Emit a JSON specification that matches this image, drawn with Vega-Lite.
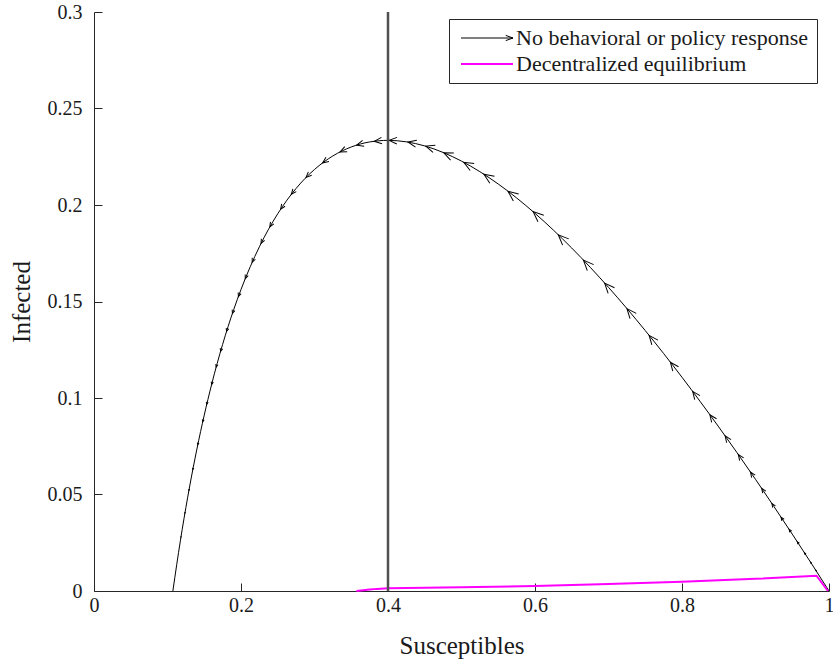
{
  "$schema": "https://vega.github.io/schema/vega-lite/v6.json",
  "width": 735,
  "height": 579,
  "autosize": {"type": "none"},
  "padding": {"left": 94, "top": 12, "right": 4, "bottom": 73},
  "background": "white",
  "config": {
    "view": {"stroke": null},
    "axis": {
      "domainColor": "#262626",
      "tickColor": "#262626",
      "labelFont": "Liberation Serif",
      "titleFont": "Liberation Serif",
      "labelFontSize": 20,
      "titleFontSize": 25,
      "labelColor": "#1a1a1a",
      "titleColor": "#1a1a1a",
      "titleFontWeight": "normal",
      "grid": false,
      "tickSize": -8
    },
    "legend": {
      "labelFont": "Liberation Serif",
      "labelFontSize": 22,
      "labelColor": "#1a1a1a",
      "labelLimit": 600,
      "strokeColor": "#262626",
      "fillColor": "white",
      "padding": 8,
      "rowPadding": 4
    }
  },
  "datasets": {
    "curve": [
      {"S": 1.0, "I": 0.0, "series": "No behavioral or policy response"},
      {"S": 0.98, "I": 0.01192, "series": "No behavioral or policy response"},
      {"S": 0.95, "I": 0.02948, "series": "No behavioral or policy response"},
      {"S": 0.9, "I": 0.05786, "series": "No behavioral or policy response"},
      {"S": 0.85, "I": 0.08499, "series": "No behavioral or policy response"},
      {"S": 0.8, "I": 0.11074, "series": "No behavioral or policy response"},
      {"S": 0.75, "I": 0.13493, "series": "No behavioral or policy response"},
      {"S": 0.7, "I": 0.15733, "series": "No behavioral or policy response"},
      {"S": 0.65, "I": 0.17769, "series": "No behavioral or policy response"},
      {"S": 0.6, "I": 0.19567, "series": "No behavioral or policy response"},
      {"S": 0.55, "I": 0.21087, "series": "No behavioral or policy response"},
      {"S": 0.5, "I": 0.22274, "series": "No behavioral or policy response"},
      {"S": 0.45, "I": 0.2306, "series": "No behavioral or policy response"},
      {"S": 0.425, "I": 0.23273, "series": "No behavioral or policy response"},
      {"S": 0.4, "I": 0.23348, "series": "No behavioral or policy response"},
      {"S": 0.375, "I": 0.23267, "series": "No behavioral or policy response"},
      {"S": 0.35, "I": 0.23007, "series": "No behavioral or policy response"},
      {"S": 0.325, "I": 0.22543, "series": "No behavioral or policy response"},
      {"S": 0.3, "I": 0.21841, "series": "No behavioral or policy response"},
      {"S": 0.275, "I": 0.20861, "series": "No behavioral or policy response"},
      {"S": 0.25, "I": 0.19548, "series": "No behavioral or policy response"},
      {"S": 0.225, "I": 0.17834, "series": "No behavioral or policy response"},
      {"S": 0.2, "I": 0.15622, "series": "No behavioral or policy response"},
      {"S": 0.19, "I": 0.14571, "series": "No behavioral or policy response"},
      {"S": 0.175, "I": 0.12781, "series": "No behavioral or policy response"},
      {"S": 0.16, "I": 0.10697, "series": "No behavioral or policy response"},
      {"S": 0.15, "I": 0.09115, "series": "No behavioral or policy response"},
      {"S": 0.14, "I": 0.07355, "series": "No behavioral or policy response"},
      {"S": 0.13, "I": 0.05391, "series": "No behavioral or policy response"},
      {"S": 0.125, "I": 0.04322, "series": "No behavioral or policy response"},
      {"S": 0.12, "I": 0.03189, "series": "No behavioral or policy response"},
      {"S": 0.115, "I": 0.01987, "series": "No behavioral or policy response"},
      {"S": 0.11, "I": 0.00709, "series": "No behavioral or policy response"},
      {"S": 0.1073, "I": 0.0, "series": "No behavioral or policy response"}
    ],
    "arrows": [
      {"S": 0.4068, "I": 0.2334, "u": -0.2374, "v": 0.0040},
      {"S": 0.4327, "I": 0.2322, "u": -0.2512, "v": 0.0190},
      {"S": 0.4571, "I": 0.2298, "u": -0.2626, "v": 0.0328},
      {"S": 0.4816, "I": 0.2261, "u": -0.2722, "v": 0.0461},
      {"S": 0.5088, "I": 0.2209, "u": -0.2810, "v": 0.0601},
      {"S": 0.5361, "I": 0.2145, "u": -0.2875, "v": 0.0730},
      {"S": 0.5687, "I": 0.2055, "u": -0.2922, "v": 0.0867},
      {"S": 0.6027, "I": 0.1948, "u": -0.2935, "v": 0.0987},
      {"S": 0.6367, "I": 0.1827, "u": -0.2908, "v": 0.1081},
      {"S": 0.6707, "I": 0.1695, "u": -0.2842, "v": 0.1147},
      {"S": 0.6993, "I": 0.1576, "u": -0.2755, "v": 0.1179},
      {"S": 0.7293, "I": 0.1444, "u": -0.2633, "v": 0.1189},
      {"S": 0.7592, "I": 0.1306, "u": -0.2479, "v": 0.1173},
      {"S": 0.7878, "I": 0.1168, "u": -0.2300, "v": 0.1132},
      {"S": 0.8177, "I": 0.1018, "u": -0.2081, "v": 0.1063},
      {"S": 0.8408, "I": 0.0898, "u": -0.1888, "v": 0.0990},
      {"S": 0.8612, "I": 0.0790, "u": -0.1701, "v": 0.0911},
      {"S": 0.8789, "I": 0.0695, "u": -0.1527, "v": 0.0832},
      {"S": 0.8952, "I": 0.0605, "u": -0.1354, "v": 0.0749},
      {"S": 0.9102, "I": 0.0522, "u": -0.1188, "v": 0.0666},
      {"S": 0.9238, "I": 0.0445, "u": -0.1028, "v": 0.0583},
      {"S": 0.9361, "I": 0.0375, "u": -0.0878, "v": 0.0503},
      {"S": 0.9469, "I": 0.0313, "u": -0.0741, "v": 0.0428},
      {"S": 0.9578, "I": 0.0250, "u": -0.0599, "v": 0.0349},
      {"S": 0.9673, "I": 0.0194, "u": -0.0469, "v": 0.0275},
      {"S": 0.9755, "I": 0.0146, "u": -0.0356, "v": 0.0210},
      {"S": 0.9823, "I": 0.0106, "u": -0.0260, "v": 0.0154},
      {"S": 0.3864, "I": 0.2332, "u": -0.2253, "v": -0.0079},
      {"S": 0.3619, "I": 0.2315, "u": -0.2094, "v": -0.0221},
      {"S": 0.3388, "I": 0.2282, "u": -0.1933, "v": -0.0349},
      {"S": 0.3143, "I": 0.2227, "u": -0.1750, "v": -0.0477},
      {"S": 0.2912, "I": 0.2153, "u": -0.1567, "v": -0.0586},
      {"S": 0.2707, "I": 0.2066, "u": -0.1398, "v": -0.0668},
      {"S": 0.2558, "I": 0.1989, "u": -0.1272, "v": -0.0717},
      {"S": 0.2408, "I": 0.1897, "u": -0.1142, "v": -0.0755},
      {"S": 0.2286, "I": 0.1811, "u": -0.1035, "v": -0.0776},
      {"S": 0.2163, "I": 0.1713, "u": -0.0926, "v": -0.0787},
      {"S": 0.2068, "I": 0.1628, "u": -0.0842, "v": -0.0786},
      {"S": 0.1973, "I": 0.1535, "u": -0.0757, "v": -0.0778},
      {"S": 0.1891, "I": 0.1447, "u": -0.0684, "v": -0.0763},
      {"S": 0.1810, "I": 0.1353, "u": -0.0612, "v": -0.0741},
      {"S": 0.1728, "I": 0.1249, "u": -0.0540, "v": -0.0709},
      {"S": 0.1667, "I": 0.1167, "u": -0.0486, "v": -0.0681},
      {"S": 0.1605, "I": 0.1077, "u": -0.0432, "v": -0.0645},
      {"S": 0.1537, "I": 0.0973, "u": -0.0374, "v": -0.0599},
      {"S": 0.1483, "I": 0.0883, "u": -0.0327, "v": -0.0556},
      {"S": 0.1415, "I": 0.0763, "u": -0.0270, "v": -0.0493},
      {"S": 0.1347, "I": 0.0634, "u": -0.0213, "v": -0.0421},
      {"S": 0.1293, "I": 0.0524, "u": -0.0169, "v": -0.0355},
      {"S": 0.1238, "I": 0.0406, "u": -0.0126, "v": -0.0280},
      {"S": 0.1184, "I": 0.0281, "u": -0.0083, "v": -0.0198}
    ],
    "decentral": [
      {"S": 0.357, "I": 0.0, "series": "Decentralized equilibrium"},
      {"S": 0.366, "I": 0.0004, "series": "Decentralized equilibrium"},
      {"S": 0.375, "I": 0.0008, "series": "Decentralized equilibrium"},
      {"S": 0.385, "I": 0.0011, "series": "Decentralized equilibrium"},
      {"S": 0.4, "I": 0.0014, "series": "Decentralized equilibrium"},
      {"S": 0.5, "I": 0.0019, "series": "Decentralized equilibrium"},
      {"S": 0.6, "I": 0.0026, "series": "Decentralized equilibrium"},
      {"S": 0.7, "I": 0.0036, "series": "Decentralized equilibrium"},
      {"S": 0.8, "I": 0.0048, "series": "Decentralized equilibrium"},
      {"S": 0.9, "I": 0.0063, "series": "Decentralized equilibrium"},
      {"S": 0.983, "I": 0.0079, "series": "Decentralized equilibrium"},
      {"S": 0.9985, "I": 0.0, "series": "Decentralized equilibrium"}
    ],
    "threshold": [{"S": 0.4}]
  },
  "layer": [
    {
      "data": {"name": "curve"},
      "mark": {"type": "line", "strokeWidth": 1, "interpolate": "monotone"},
      "encoding": {
        "x": {
          "field": "S", "type": "quantitative",
          "scale": {"domain": [0, 1], "nice": false, "zero": false},
          "axis": {
            "title": "Susceptibles",
            "values": [0, 0.2, 0.4, 0.6, 0.8, 1],
            "format": "~g",
            "labelFlush": true,
            "labelFlushOffset": 5,
            "labelPadding": 12,
            "titlePadding": 18
          }
        },
        "y": {
          "field": "I", "type": "quantitative",
          "scale": {"domain": [0, 0.3], "nice": false, "zero": false},
          "axis": {
            "title": "Infected",
            "values": [0, 0.05, 0.1, 0.15, 0.2, 0.25, 0.3],
            "format": "~g",
            "labelFlush": false,
            "labelPadding": 20,
            "titlePadding": 13
          }
        },
        "color": {
          "field": "series", "type": "nominal",
          "scale": {
            "domain": ["No behavioral or policy response", "Decentralized equilibrium"],
            "range": ["#000000", "#ff00ff"]
          },
          "legend": {
            "orient": "none",
            "legendX": 355,
            "legendY": 7,
            "title": null,
            "symbolType": "stroke",
            "symbolSize": 2704,
            "symbolOffset": 19,
            "labelOffset": 18,
            "encode": {
              "symbols": {
                "update": {
                  "shape": {"signal": "datum.value === 'No behavioral or policy response' ? 'M-1,0L1,0M0.72,-0.1L1,0L0.72,0.1' : 'stroke'"},
                  "strokeWidth": {"signal": "datum.value === 'Decentralized equilibrium' ? 2 : 1"},
                  "fill": {"value": "transparent"}
                }
              }
            }
          }
        }
      }
    },
    {
      "data": {"name": "arrows"},
      "transform": [
        {"calculate": "atan2(-datum.v * 1930, datum.u * 735) * 180 / PI", "as": "heading"},
        {"calculate": "sqrt(datum.u * datum.u + datum.v * datum.v)", "as": "speed"}
      ],
      "mark": {"type": "point", "shape": "M-1,-0.85L1,0L-1,0.85", "filled": false, "strokeWidth": 1, "color": "#000000", "opacity": 1},
      "encoding": {
        "x": {"field": "S", "type": "quantitative"},
        "y": {"field": "I", "type": "quantitative"},
        "angle": {"field": "heading", "type": "quantitative", "scale": null},
        "size": {"field": "speed", "type": "quantitative", "scale": {"type": "pow", "exponent": 2, "domain": [0, 0.3], "range": [0, 100]}, "legend": null}
      }
    },
    {
      "data": {"name": "decentral"},
      "mark": {"type": "line", "strokeWidth": 2, "interpolate": "linear"},
      "encoding": {
        "x": {"field": "S", "type": "quantitative"},
        "y": {"field": "I", "type": "quantitative"},
        "color": {"field": "series", "type": "nominal"}
      }
    },
    {
      "data": {"name": "threshold"},
      "mark": {"type": "rule", "color": "#505050", "strokeWidth": 2.5},
      "encoding": {
        "x": {"field": "S", "type": "quantitative"}
      }
    }
  ]
}
